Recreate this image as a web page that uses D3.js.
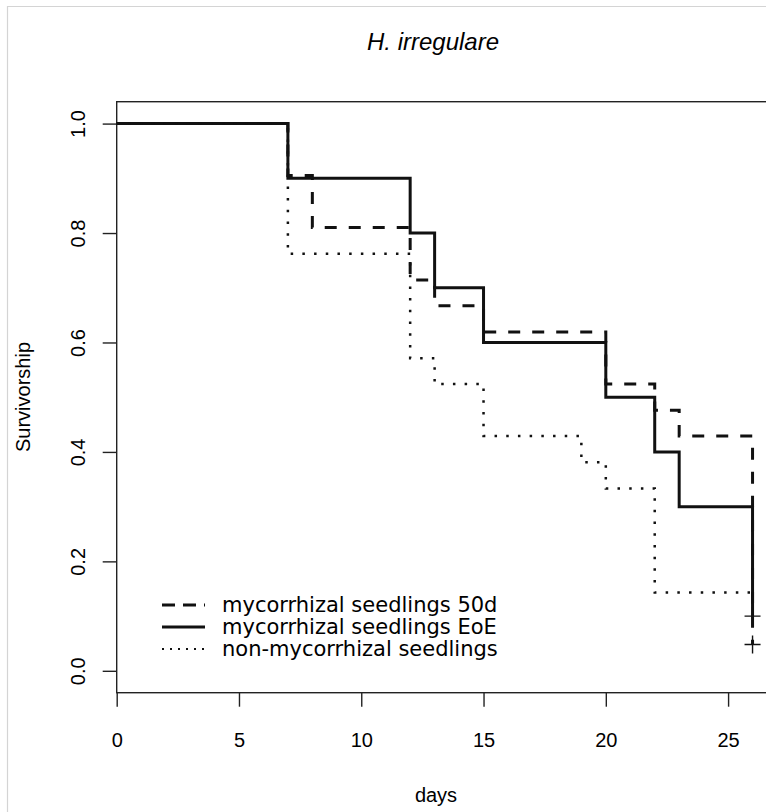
<!DOCTYPE html>
<html>
<head>
<meta charset="utf-8">
<script src="https://cdnjs.cloudflare.com/ajax/libs/d3/7.8.5/d3.min.js"></script>
<style>
  body { margin: 0; background: #fff; }
  svg text { fill: #000; }
</style>
</head>
<body>
<div id="chart"></div>
<script>
// Kaplan-Meier step values
var dashTimes = [0, 7, 8, 12, 13, 15, 20, 22, 23, 26],
    dashSurv  = [1, 0.905, 0.810, 0.714, 0.667, 0.619, 0.524, 0.476, 0.429, 0.048];
var solidTimes = [0, 7, 12, 13, 15, 20, 22, 23, 26],
    solidSurv  = [1, 0.9, 0.8, 0.7, 0.6, 0.5, 0.4, 0.3, 0.1];
var dotTimes = [0, 7, 12, 13, 15, 19, 20, 22, 26],
    dotSurv  = [1, 0.762, 0.571, 0.524, 0.429, 0.381, 0.333, 0.143, 0.143];
var censorTimes = [26, 26],
    censorSurv  = [0.1, 0.048];
var xTicks = [0, 5, 10, 15, 20, 25],
    yTicks = [0, 0.2, 0.4, 0.6, 0.8, 1.0];
var legendLabels = ["mycorrhizal seedlings 50d", "mycorrhizal seedlings EoE", "non-mycorrhizal seedlings"];

var width = 766, height = 812;
var box = { left: 116.7, top: 101.7, bottom: 692.7, right: 777 };

var svg = d3.select("#chart").append("svg")
    .attr("width", width)
    .attr("height", height);

// light outer frame
svg.append("path")
    .attr("d", "M7.5," + height + "V6.5H" + width)
    .attr("fill", "none")
    .attr("stroke", "#d4d4d4")
    .attr("stroke-width", 1.2);

var x = d3.scaleLinear().domain([0, 27]).range([box.left, box.right]);
var y = d3.scaleLinear().domain([-0.04, 1.04]).range([box.bottom, box.top]);

// plot box
svg.append("rect")
    .attr("x", box.left)
    .attr("y", box.top)
    .attr("width", box.right - box.left)
    .attr("height", box.bottom - box.top)
    .attr("fill", "none")
    .attr("stroke", "#222")
    .attr("stroke-width", 1.4);

// axes
var xAxis = svg.append("g")
    .attr("transform", "translate(0," + box.bottom + ")")
    .call(d3.axisBottom(x).tickValues(xTicks).tickSize(14).tickPadding(26).tickFormat(d3.format("d")));
var yAxis = svg.append("g")
    .attr("transform", "translate(" + box.left + ",0)")
    .call(d3.axisLeft(y).tickValues(yTicks).tickSize(14).tickFormat(d3.format(".1f")));
[xAxis, yAxis].forEach(function(a) {
    a.select(".domain").remove();
    a.selectAll("line").attr("stroke", "#222").attr("stroke-width", 1.4);
    a.selectAll("text")
        .style("font-family", "'Liberation Sans', Arial, sans-serif")
        .style("font-size", "20px")
        .attr("fill", "#000");
});
yAxis.selectAll("text")
    .attr("x", null).attr("dy", null)
    .attr("text-anchor", "middle")
    .attr("transform", "translate(-32,0) rotate(-90)");

// title and axis labels
svg.append("text")
    .attr("x", 433).attr("y", 50)
    .attr("text-anchor", "middle")
    .style("font-family", "'Liberation Sans', Arial, sans-serif")
    .style("font-style", "italic")
    .style("font-size", "24px")
    .text("H. irregulare");

svg.append("text")
    .attr("x", 436).attr("y", 802)
    .attr("text-anchor", "middle")
    .style("font-family", "'Liberation Sans', Arial, sans-serif")
    .style("font-size", "20px")
    .text("days");

svg.append("text")
    .attr("transform", "translate(30,397) rotate(-90)")
    .attr("text-anchor", "middle")
    .style("font-family", "'Liberation Sans', Arial, sans-serif")
    .style("font-size", "20px")
    .text("Survivorship");

// curves
var line = d3.line()
    .x(function(d) { return x(d[0]); })
    .y(function(d) { return y(d[1]); })
    .curve(d3.curveStepAfter);

var series = [
    { t: dashTimes,  s: dashSurv,  dash: "12,12",   w: 3 },
    { t: solidTimes, s: solidSurv, dash: null,      w: 3 },
    { t: dotTimes,   s: dotSurv,   dash: "2.5,9.2", w: 2.5 }
];

series.forEach(function(sr) {
    svg.append("path")
        .datum(d3.zip(sr.t, sr.s))
        .attr("d", line)
        .attr("fill", "none")
        .attr("stroke", "#111")
        .attr("stroke-width", sr.w)
        .attr("stroke-dasharray", sr.dash);
});

// censor marks
svg.selectAll(".censor")
    .data(d3.zip(censorTimes, censorSurv))
    .enter().append("path")
    .attr("class", "censor")
    .attr("d", function(d) {
        var cx = x(d[0]), cy = y(d[1]);
        return "M" + (cx - 8) + "," + cy + "H" + (cx + 8) + "M" + cx + "," + (cy - 9) + "V" + (cy + 9);
    })
    .attr("stroke", "#111")
    .attr("stroke-width", 1.4);

// legend
var legendStyles = [
    { dash: "13,8", w: 3 },
    { dash: null, w: 3 },
    { dash: "2,6", w: 2 }
];
var legend = svg.selectAll(".legend")
    .data(legendLabels)
    .enter().append("g")
    .attr("class", "legend")
    .attr("transform", function(d, i) { return "translate(162," + (605 + i * 22) + ")"; });

legend.append("line")
    .attr("x1", 0).attr("x2", 43)
    .attr("y1", 0).attr("y2", 0)
    .attr("stroke", "#111")
    .attr("stroke-width", function(d, i) { return legendStyles[i].w; })
    .attr("stroke-dasharray", function(d, i) { return legendStyles[i].dash; });

legend.append("text")
    .attr("x", 60).attr("y", 0)
    .attr("dy", "0.35em")
    .style("font-family", "'DejaVu Sans', Verdana, sans-serif")
    .style("font-size", "21px")
    .text(function(d) { return d; });
</script>
</body>
</html>
